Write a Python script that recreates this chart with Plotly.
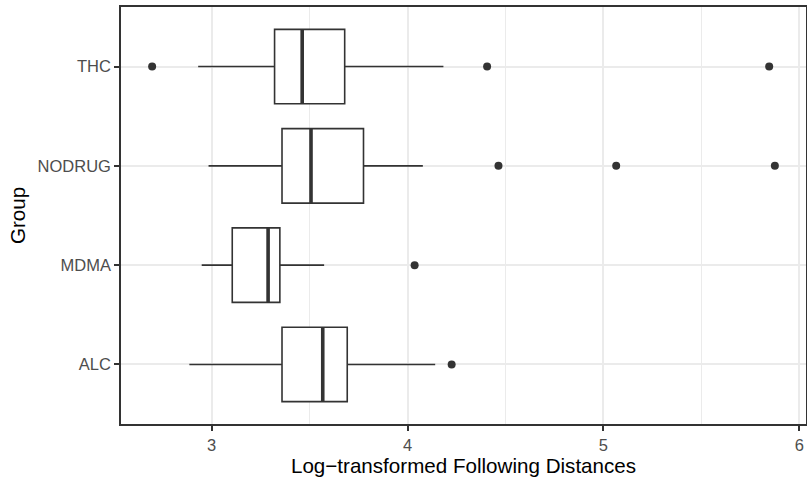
import plotly.graph_objects as go

groups = ["ALC", "MDMA", "NODRUG", "THC"]
lower_whisker = [2.886, 2.949, 2.984, 2.931]
q1 = [3.359, 3.105, 3.359, 3.321]
median = [3.567, 3.288, 3.507, 3.462]
q3 = [3.692, 3.348, 3.775, 3.679]
upper_whisker = [4.141, 3.574, 4.078, 4.183]
outlier_groups = ["ALC", "MDMA", "NODRUG", "NODRUG", "NODRUG", "THC", "THC", "THC"]
outlier_values = [4.225, 4.036, 4.464, 5.065, 5.875, 2.696, 4.406, 5.846]

x_ticks = [3, 4, 5, 6]

dark = "#333333"
grid = "#EBEBEB"
font_family = "Liberation Sans, Arial, sans-serif"
tick_size = 16.5
title_size = 20.6

fig = go.Figure()

fig.add_trace(go.Box(
    y=groups, orientation="h",
    q1=q1, median=median, q3=q3,
    lowerfence=lower_whisker, upperfence=upper_whisker,
    boxpoints=False, width=0.75, whiskerwidth=0,
    line=dict(color=dark, width=1.6), fillcolor="white",
    showlegend=False, hoverinfo="skip",
))

# thick median line (ggplot fatten)
fig.add_trace(go.Box(
    y=groups, orientation="h",
    q1=median, median=median, q3=median,
    lowerfence=median, upperfence=median,
    boxpoints=False, width=0.75, whiskerwidth=0,
    line=dict(color=dark, width=3.6), fillcolor="rgba(0,0,0,0)",
    showlegend=False, hoverinfo="skip",
))

fig.add_trace(go.Scatter(
    x=outlier_values, y=outlier_groups, mode="markers",
    marker=dict(color=dark, size=8, line=dict(width=0)),
    showlegend=False, hoverinfo="skip",
))

xmin = min(outlier_values + lower_whisker)
xmax = max(outlier_values + upper_whisker)
pad = (xmax - xmin) * 0.05

fig.update_layout(
    width=807, height=478,
    margin=dict(l=121, r=1, t=7, b=54),
    paper_bgcolor="white", plot_bgcolor="white",
    font=dict(family=font_family, size=12, color="black"),
    boxmode="overlay",
)

fig.update_xaxes(
    range=[xmin - pad, xmax + pad],
    tickvals=x_ticks, ticktext=[str(v) for v in x_ticks],
    showgrid=True, gridcolor=grid, gridwidth=1.5,
    minor=dict(showgrid=True, gridcolor=grid, gridwidth=0.75, dtick=0.5, tick0=2.5),
    showline=True, mirror=True, linecolor=dark, linewidth=1.5,
    ticks="outside", ticklen=5, tickwidth=1.5, tickcolor=dark,
    tickfont=dict(family=font_family, size=tick_size, color="#4D4D4D"),
    title=dict(text="Log\u2212transformed Following Distances",
               font=dict(family=font_family, size=title_size, color="black"), standoff=5),
    zeroline=False, automargin=False,
)

fig.update_yaxes(
    type="category", categoryorder="array", categoryarray=groups,
    range=[-0.6, len(groups) - 0.4],
    showgrid=True, gridcolor=grid, gridwidth=1.5,
    showline=True, mirror=True, linecolor=dark, linewidth=1.5,
    ticks="outside", ticklen=5, tickwidth=1.5, tickcolor=dark,
    tickfont=dict(family=font_family, size=tick_size, color="#4D4D4D"),
    title=dict(text="Group", font=dict(family=font_family, size=title_size, color="black"), standoff=6),
    zeroline=False, automargin=False,
)

fig.write_html(
    "out.html",
    config={"displayModeBar": False},
    post_script="document.body.style.margin='0px';document.body.style.overflow='hidden';",
)
